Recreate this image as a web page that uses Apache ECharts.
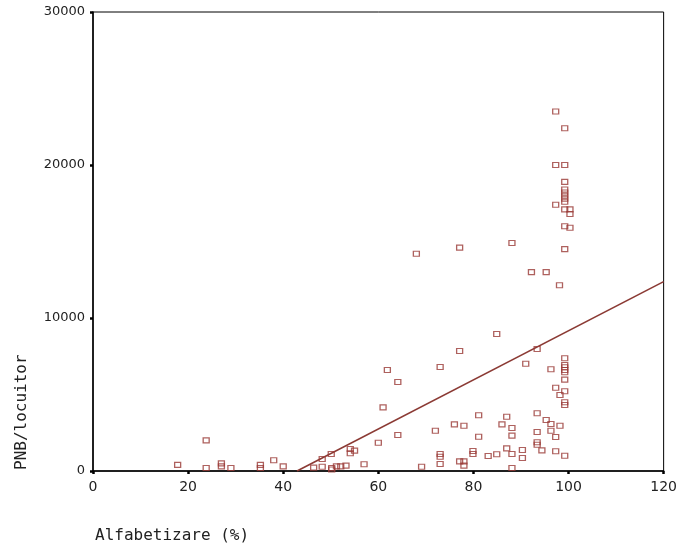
<!DOCTYPE html>
<html>
<head>
<meta charset="utf-8">
<script src="https://cdn.jsdelivr.net/npm/echarts@6/dist/echarts.min.js"></script>
<style>html,body{margin:0;padding:0;background:#fff}#c{width:680px;height:546px}</style>
</head>
<body>
<div id="c"></div>
<script>
var literacy = [17.8,23.8,23.8,27,27,29,35.2,35.2,38,40,
  46.4,48.2,48.2,50.1,50.2,50.2,51.2,52.1,53.2,54.1,54.1,55,57,60,61,61.9,64.1,64.1,68,69.1,
  72,73,73,73,73,77.1,77.1,76,78,77.1,78,78,79.9,79.9,81.1,81.1,83.1,84.9,84.9,86,87,88.1,88.1,87,88.1,88.1,88.1,
  90.3,90.3,91,92.2,95.3,98.1,93.4,96.3,99.2,99.2,99.2,99.2,99.2,99.2,97.3,98.2,99.2,99.2,99.2,
  93.4,95.3,96.3,98.2,96.3,93.4,97.3,93.4,93.4,94.4,97.3,99.2,
  97.3,99.2,97.3,99.2,99.2,99.2,99.2,99.2,99.2,99.2,97.3,99.2,100.3,100.3,99.2,100.3,99.2];
var gnpPerCapita = [400,2000,200,500,300,200,400,200,700,300,
  220,280,780,1110,200,100,300,300,350,1440,1160,1330,440,1850,4160,6600,5820,2350,14200,280,
  2630,6800,1110,930,460,14600,7840,3050,2960,630,630,350,1310,1110,3640,2240,980,8950,1090,3050,3550,2810,2310,1480,1110,200,14900,
  1370,850,7010,13000,13000,12140,7970,6650,7370,6930,6780,6600,6450,5970,5440,4970,5210,4490,4310,
  3770,3330,3070,2960,2630,2550,2220,1880,1720,1350,1290,1000,
  23500,22400,20000,20000,18900,18400,18200,18000,17800,17600,17400,17100,17100,16800,16000,15900,14500];
var fitX = [42.9, 120];
var fitY = [0, 12380];
var xTicks = [0, 20, 40, 60, 80, 100, 120];
var yTicks = [0, 10000, 20000, 30000];
var xTitle = 'Alfabetizare (%)';
var yTitle = 'PNB/locuitor';

var pts = literacy.map(function (x, i) { return [x, gnpPerCapita[i]]; });
var fit = fitX.map(function (x, i) { return [x, fitY[i]]; });

var chart = echarts.init(document.getElementById('c'), null, {renderer: 'canvas'});
chart.setOption({
  animation: false,
  backgroundColor: '#fff',
  grid: {left: 93, right: 13, top: 12, bottom: 75, show: true, borderColor: '#000', borderWidth: 1, backgroundColor: 'transparent'},
  xAxis: {
    type: 'value', min: xTicks[0], max: xTicks[xTicks.length - 1], interval: 20,
    splitLine: {show: false},
    axisLine: {lineStyle: {color: '#000', width: 1.5}},
    axisTick: {show: true, length: 3, lineStyle: {color: '#000', width: 2.5}},
    axisLabel: {color: '#222', fontFamily: 'DejaVu Sans', fontSize: 14, margin: 9,
      formatter: function (v) { return String(v); }}
  },
  yAxis: {
    type: 'value', min: yTicks[0], max: yTicks[yTicks.length - 1], interval: 10000,
    splitLine: {show: false},
    axisLine: {lineStyle: {color: '#000', width: 1.5}},
    axisTick: {show: true, length: 3, lineStyle: {color: '#000', width: 2.5}},
    axisLabel: {color: '#222', fontFamily: 'DejaVu Sans', fontSize: 13, margin: 8,
      formatter: function (v) { return String(v); }}
  },
  series: [
    {
      type: 'scatter', data: pts, symbol: 'rect', symbolSize: [6, 5],
      itemStyle: {color: 'rgba(255,255,255,0)', borderColor: '#9a3a36', borderWidth: 1.2},
      z: 3
    },
    {
      type: 'line', data: fit, showSymbol: false, symbol: 'none',
      lineStyle: {color: '#8b3a34', width: 1.6}, z: 2
    }
  ],
  graphic: [
    {type: 'text', left: 95, top: 528, style: {text: xTitle, fontFamily: 'DejaVu Sans Mono', fontSize: 16, fill: '#222'}},
    {type: 'text', x: 14, y: 470, rotation: Math.PI / 2, style: {text: yTitle, fontFamily: 'DejaVu Sans Mono', fontSize: 16, fill: '#222'}}
  ]
});
</script>
</body>
</html>
